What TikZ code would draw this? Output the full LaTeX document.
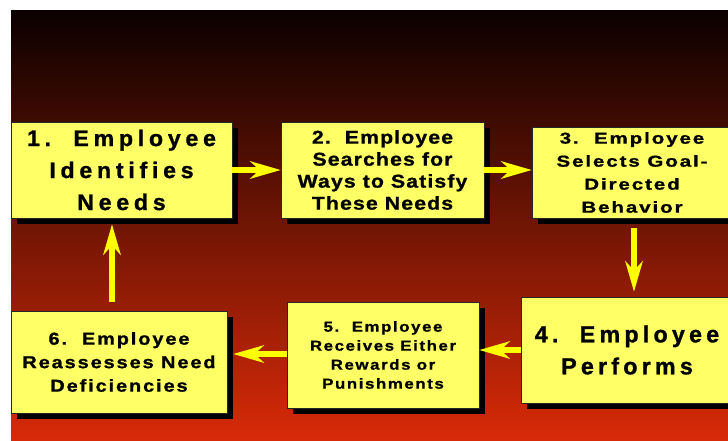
\documentclass[tikz,border=0pt]{standalone}
\usepackage{fontspec}
\setmainfont{Liberation Sans}
\usetikzlibrary{arrows.meta,shadows}
\definecolor{boxyellow}{RGB}{255,255,102}
\definecolor{arrowyellow}{RGB}{255,255,0}
\definecolor{bgtop}{RGB}{10,0,0}
\definecolor{bgbottom}{RGB}{216,42,8}
\newcommand{\stagefont}[4]{\fontsize{#1}{#2}\selectfont\addfontfeatures{LetterSpace=#3,FakeStretch=#4,FakeBold=1}}
\tikzset{
  stage/.style={draw=black!85, line width=0.8pt, fill=boxyellow, align=center,
    inner sep=2pt, font=\bfseries,
    drop shadow={shadow xshift=6pt, shadow yshift=-6pt, fill=black, opacity=1}},
  flow/.style={draw=arrowyellow, line width=6pt,
    -{Stealth[length=31pt, width=18pt, inset=10pt, line width=0pt, fill=arrowyellow]}}
}
\begin{document}
\begin{tikzpicture}[x=1pt, y=-1pt]
      \useasboundingbox (0,0) rectangle (728,440);
      \clip (0,0) rectangle (728,440);
      \fill[top color=bgtop, bottom color=bgbottom] (11,10) rectangle (728,440);
      % the six stages
      \node[stage, minimum width=221pt, minimum height=96pt, font=\bfseries\stagefont{22.5}{32}{21}{1.03}]
        (needs) at (121.5,170) {1.\ \ Employee\\Identifies\\Needs};
      \node[stage, minimum width=203pt, minimum height=96pt, font=\bfseries\stagefont{18.5}{22}{6}{1.15}]
        (search) at (382.5,170) {2.\ \ Employee\\Searches for\\Ways to Satisfy\\These Needs};
      \node[stage, minimum width=200pt, minimum height=91pt, font=\bfseries\stagefont{15.8}{23}{12}{1.3}]
        (select) at (632,172.5) {3.\ \ Employee\\Selects Goal-\\Directed\\Behavior};
      \node[stage, minimum width=212pt, minimum height=106pt, font=\bfseries\stagefont{23.3}{32}{18}{1.0}]
        (perform) at (627,350) {4.\ \ Employee\\Performs};
      \node[stage, minimum width=192pt, minimum height=106pt, font=\bfseries\stagefont{14.4}{19}{11}{1.17}]
        (reward) at (383,355) {5.\ \ Employee\\Receives Either\\Rewards or\\Punishments};
      \node[stage, minimum width=216pt, minimum height=102pt, font=\bfseries\stagefont{17.2}{23.5}{11}{1.16}]
        (reassess) at (119,362) {6.\ \ Employee\\Reassesses Need\\Deficiencies};
      \begin{scope}[flow]
        \draw (needs.east) to (search.west);
        \draw (search.east) to (search.east -| select.west);
        \draw ([xshift=2pt,yshift=-10pt]select.south) to ([xshift=7pt,yshift=5pt]perform.north);
        \draw (perform.west) to (reward.east |- perform.west);
        \draw ([yshift=1pt]reward.west) to ([xshift=6pt,yshift=8pt]reassess.east);
        \draw ([xshift=-7pt,yshift=9pt]reassess.north) to ([xshift=-9.5pt,yshift=-6pt]needs.south);
      \end{scope}
    \end{tikzpicture}
\end{document}
